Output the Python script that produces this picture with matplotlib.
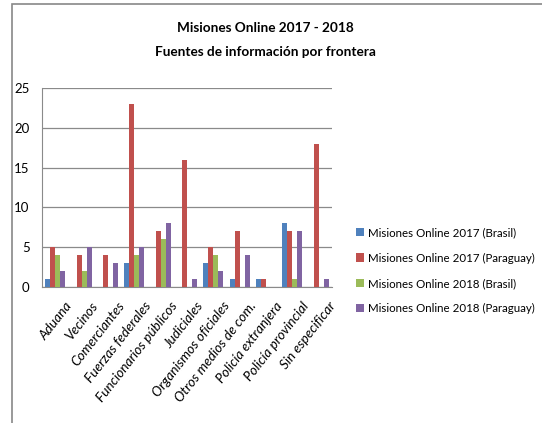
import numpy as np
import matplotlib.pyplot as plt
from matplotlib.patches import Rectangle

categories = ["Aduana", "Vecinos", "Comerciantes", "Fuerzas federales",
              "Funcionarios públicos", "Judiciales", "Organismos oficiales",
              "Otros medios de com.", "Policía extranjera", "Policía provincial",
              "Sin especificar"]
brasil_2017 = [1, 0, 0, 3, 0, 0, 3, 1, 1, 8, 0]
paraguay_2017 = [5, 4, 4, 23, 7, 16, 5, 7, 1, 7, 18]
brasil_2018 = [4, 2, 0, 4, 6, 0, 4, 0, 0, 1, 0]
paraguay_2018 = [2, 5, 3, 5, 8, 1, 2, 4, 0, 7, 1]

series = [
    ("Misiones Online 2017 (Brasil)", brasil_2017, "#4F81BD"),
    ("Misiones Online 2017 (Paraguay)", paraguay_2017, "#C0504D"),
    ("Misiones Online 2018 (Brasil)", brasil_2018, "#9BBB59"),
    ("Misiones Online 2018 (Paraguay)", paraguay_2018, "#8064A2"),
]

plt.rcParams["font.family"] = ["Lato", "DejaVu Sans"]

fig = plt.figure(figsize=(5.42, 4.23), dpi=100)
ax = fig.add_axes([0.0775, 0.3215, 0.535, 0.4705])

# outer chart border
fig.patches.append(Rectangle((12 / 542, -0.01), 1.0, 1 - 4 / 423 + 0.01,
                             transform=fig.transFigure, fill=False,
                             edgecolor="#888888", linewidth=1.2))

x = np.arange(len(categories))
w = 0.19
for i, (label, vals, col) in enumerate(series):
    ax.bar(x + (i - 1.5) * w, vals, w, color=col, label=label, zorder=3)

ax.set_xlim(-0.5, len(categories) - 0.5)
ax.set_ylim(0, 25)
ax.set_yticks([0, 5, 10, 15, 20, 25])
ax.yaxis.grid(True, color="#8a8a8a", linewidth=0.9, zorder=0)
ax.set_xticks(x + 0.35)
ax.set_xticklabels(categories, rotation=52, ha="right", rotation_mode="anchor",
                   fontsize=9.8, style="italic")
ax.tick_params(axis="both", length=0)
ax.tick_params(axis="y", pad=9, labelsize=9.5)
ax.tick_params(axis="x", pad=9)
for s in ["top", "right"]:
    ax.spines[s].set_visible(False)
ax.spines["left"].set_color("#8a8a8a")
ax.spines["bottom"].set_color("#8a8a8a")

fig.text(0.49, 0.933, "Misiones Online 2017 - 2018", ha="center", va="center",
         fontsize=9.8, fontweight="bold")
fig.text(0.49, 0.877, "Fuentes de información por frontera", ha="center",
         va="center", fontsize=9.8, fontweight="bold")

fig.legend(loc="center left", bbox_to_anchor=(0.638, 0.36), frameon=False,
           fontsize=8.3, handlelength=0.7, handleheight=0.7, handletextpad=0.3,
           labelspacing=1.25)

fig.savefig("out.png", dpi=100)
